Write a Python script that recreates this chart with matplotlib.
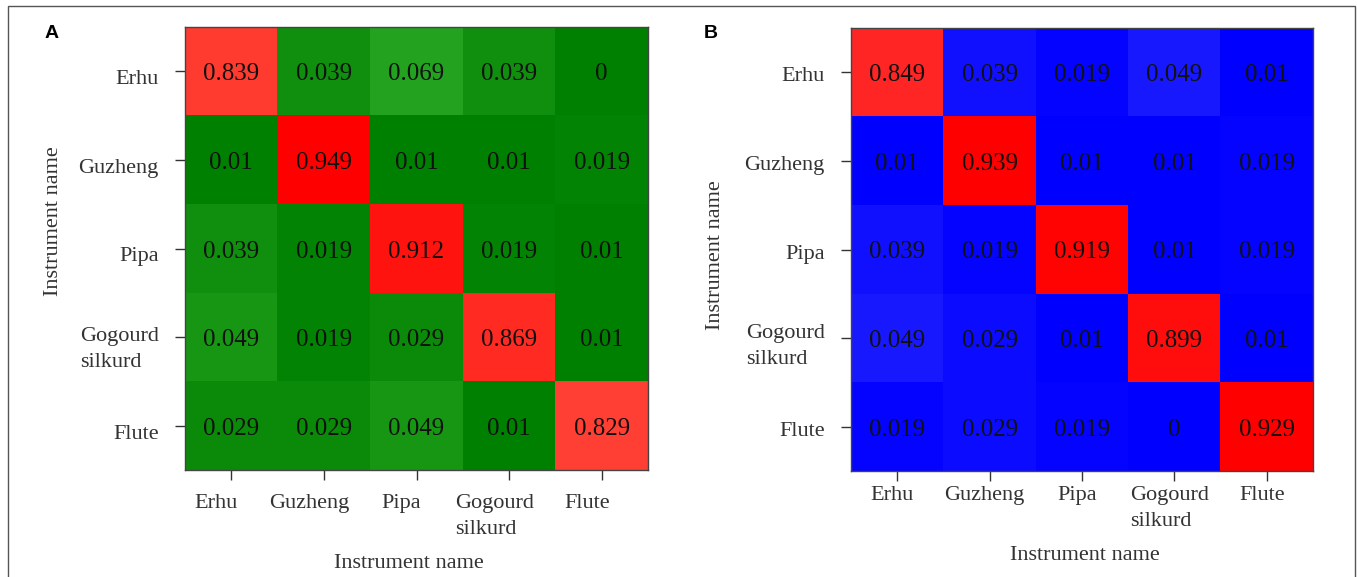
import numpy as np
import matplotlib
matplotlib.use('Agg')
import matplotlib.pyplot as plt
from matplotlib.colors import LinearSegmentedColormap
from matplotlib.patches import Rectangle
from matplotlib.transforms import ScaledTranslation

# Data
instruments = ['Erhu', 'Guzheng', 'Pipa', 'Gogourd\nsilkurd', 'Flute']

conf_a = [[0.839, 0.039, 0.069, 0.039, 0],
          [0.01, 0.949, 0.01, 0.01, 0.019],
          [0.039, 0.019, 0.912, 0.019, 0.01],
          [0.049, 0.019, 0.029, 0.869, 0.01],
          [0.029, 0.029, 0.049, 0.01, 0.829]]

conf_b = [[0.849, 0.039, 0.019, 0.049, 0.01],
          [0.01, 0.939, 0.01, 0.01, 0.019],
          [0.039, 0.019, 0.919, 0.01, 0.019],
          [0.049, 0.029, 0.01, 0.899, 0.01],
          [0.019, 0.029, 0.019, 0, 0.929]]

# Colormaps (low -> dark base colour, high -> red)
def rgb(r, g, b):
    return (r / 255, g / 255, b / 255)

cmap_green = LinearSegmentedColormap.from_list('green_red', [
    (0.0, rgb(0, 128, 0)), (0.01, rgb(0, 128, 0)), (0.07, rgb(38, 164, 34)),
    (0.83, rgb(255, 64, 52)), (0.95, rgb(255, 0, 0)), (1.0, rgb(255, 0, 0))])
cmap_blue = LinearSegmentedColormap.from_list('blue_red', [
    (0.0, rgb(0, 0, 255)), (0.01, rgb(0, 0, 255)), (0.05, rgb(26, 26, 255)),
    (0.849, rgb(255, 38, 38)), (0.93, rgb(255, 0, 0)), (1.0, rgb(255, 0, 0))])

W, H = 1357, 577
DPI = 100
SERIF = 'Liberation Serif'
TICK_COL = '#333333'


def px_axes(fig, left, top, right, bottom):
    return fig.add_axes([left / W, 1 - bottom / H, (right - left) / W, (bottom - top) / H])


def draw_panel(fig, ax, data, cmap, letter, xshift, yshift, xpad, ylab_xy, xlab_xy, letter_xy):
    data = np.array(data)
    ax.imshow(data, cmap=cmap, vmin=0, vmax=1, aspect='auto', interpolation='nearest')

    down = ScaledTranslation(0, -3 / DPI, fig.dpi_scale_trans)
    for r in range(data.shape[0]):
        for c in range(data.shape[1]):
            ax.text(c, r, f'{data[r, c]:g}', ha='center', va='center',
                    fontsize=18, family=SERIF, color='#111111',
                    transform=ax.transData + down)

    n = len(instruments)
    ax.set_xticks(range(n))
    ax.set_yticks(range(n))
    ax.set_xticklabels(instruments, family=SERIF, fontsize=16, color=TICK_COL,
                       multialignment='left', va='top', linespacing=1.5)
    ax.set_yticklabels(instruments, family=SERIF, fontsize=16, color=TICK_COL,
                       multialignment='left', linespacing=1.5)
    ax.tick_params(axis='x', length=7, width=1, color=TICK_COL, pad=xpad)
    ax.tick_params(axis='y', length=7, width=1, color=TICK_COL, pad=12)

    # small label offsets, as in the original figure
    for lab in ax.get_xticklabels():
        lab.set_transform(lab.get_transform() + ScaledTranslation(xshift / DPI, 0, fig.dpi_scale_trans))
    for lab in ax.get_yticklabels():
        lab.set_transform(lab.get_transform() + ScaledTranslation(0, -yshift / DPI, fig.dpi_scale_trans))

    for spine in ax.spines.values():
        spine.set_linewidth(1)
        spine.set_color('#444444')

    fig.text(ylab_xy[0] / W, 1 - ylab_xy[1] / H, 'Instrument name', rotation=90,
             ha='center', va='center', family=SERIF, fontsize=16, color=TICK_COL)
    fig.text(xlab_xy[0] / W, 1 - xlab_xy[1] / H, 'Instrument name',
             ha='center', va='center', family=SERIF, fontsize=16, color=TICK_COL)
    fig.text(letter_xy[0] / W, 1 - letter_xy[1] / H, letter, ha='center', va='center',
             family='Liberation Sans', fontweight='bold', fontsize=14, color='black')


fig = plt.figure(figsize=(W / DPI, H / DPI), dpi=DPI)

# Outer frame
fig.patches.append(Rectangle((8 / W, -0.05), (1355 - 8) / W, 1.05 - 6 / H,
                             transform=fig.transFigure, fill=False,
                             edgecolor='#555555', lw=1))

ax_a = px_axes(fig, 185, 27, 648, 470)
draw_panel(fig, ax_a, conf_a, cmap_green, 'A', xshift=-15, yshift=6, xpad=10,
           ylab_xy=(53, 221), xlab_xy=(409, 563), letter_xy=(52, 34))

ax_b = px_axes(fig, 851, 28, 1313, 471)
draw_panel(fig, ax_b, conf_b, cmap_blue, 'B', xshift=-5, yshift=2, xpad=4,
           ylab_xy=(715, 255), xlab_xy=(1085, 556), letter_xy=(711, 34))

plt.savefig('out.png', dpi=DPI)
plt.close(fig)
